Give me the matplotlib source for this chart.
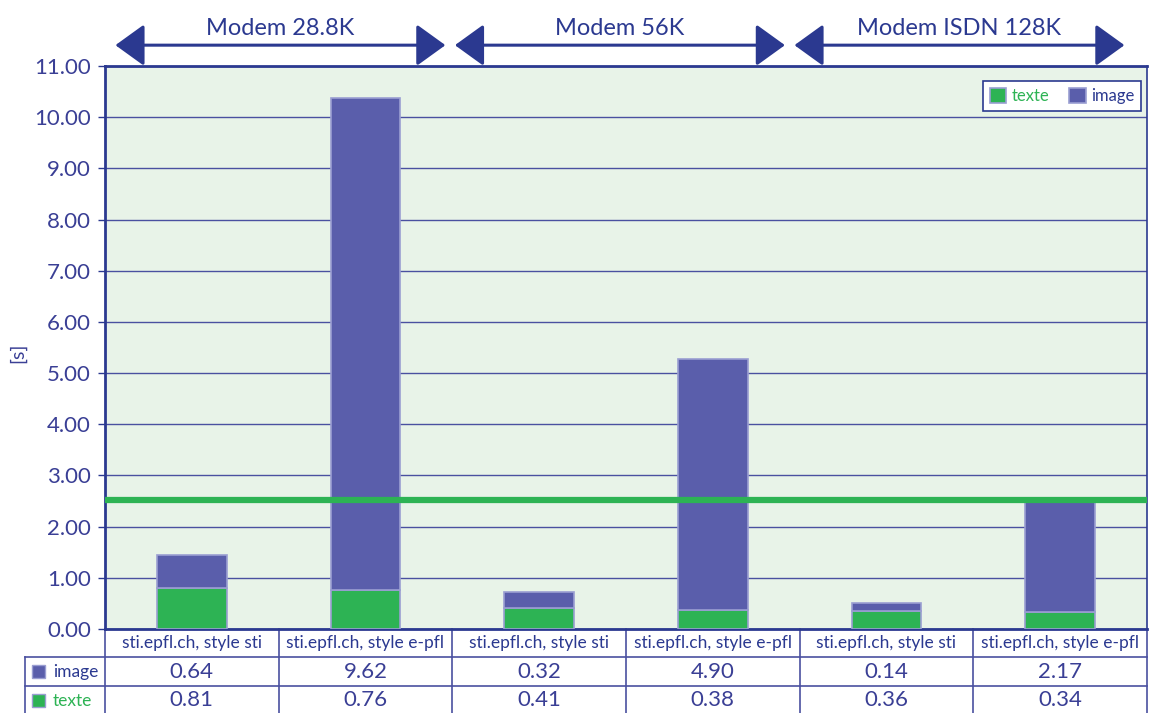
import matplotlib
matplotlib.use("Agg")
import matplotlib.pyplot as plt
import matplotlib.transforms as mtransforms
from matplotlib.patches import FancyArrowPatch, Rectangle
import numpy as np

plt.rcParams['font.family'] = ['Lato', 'DejaVu Sans']

categories = ["sti.epfl.ch, style sti", "sti.epfl.ch, style e-pfl",
              "sti.epfl.ch, style sti", "sti.epfl.ch, style e-pfl",
              "sti.epfl.ch, style sti", "sti.epfl.ch, style e-pfl"]
texte = [0.81, 0.76, 0.41, 0.38, 0.36, 0.34]
image = [0.64, 9.62, 0.32, 4.90, 0.14, 2.17]
groups = ["Modem 28.8K", "Modem 56K", "Modem ISDN 128K"]
threshold = 2.52
yticks = np.arange(0, 12, 1)

BLUE = '#2b3990'
TXT = '#3a3f95'
GREEN = '#2db354'
PURPLE = '#5a5eab'
EDGE = '#9a9ed2'
BG = '#e8f3e8'
GRID = '#4a50a0'
W = 'normal'

fig = plt.figure(figsize=(11.52, 7.13), dpi=100)
ax = fig.add_axes([105/1152, 1-629/713, (1147-105)/1152, (629-66)/713])
ax.set_facecolor(BG)

x = np.arange(len(categories))
ax.bar(x, texte, width=0.4, color=GREEN, edgecolor=EDGE, linewidth=1.2, zorder=3, label='texte')
ax.bar(x, image, width=0.4, bottom=texte, color=PURPLE, edgecolor=EDGE, linewidth=1.2, zorder=3, label='image')

ax.axhline(threshold, color=GREEN, lw=4.5, zorder=4)

ax.set_xlim(-0.5, len(categories) - 0.5)
ax.set_ylim(0, 11)
ax.set_yticks(yticks)
ax.set_yticklabels([f"{v:.2f}" for v in yticks], fontsize=16, color=TXT, fontweight=W)
ax.set_xticks([])
ax.yaxis.grid(True, color=GRID, lw=1, zorder=1)
ax.set_axisbelow(True)
ax.tick_params(axis='y', length=5, width=1, color=BLUE, pad=5)
for s in ['left', 'bottom', 'top']:
    ax.spines[s].set_color(BLUE)
    ax.spines[s].set_linewidth(2)
ax.spines['right'].set_color(BLUE)
ax.spines['right'].set_linewidth(1.2)

ax.set_ylabel("[s]", fontsize=14, color=TXT, fontweight=W)
ax.yaxis.set_label_coords(-0.076, 0.49)

leg = ax.legend(loc='upper right', ncol=2, frameon=True, fancybox=False,
                edgecolor=BLUE, facecolor='white', framealpha=1,
                fontsize=12, handlelength=1.0, handleheight=1.0,
                handletextpad=0.3, columnspacing=1.2, borderpad=0.4,
                bbox_to_anchor=(1.002, 0.988))
leg.get_frame().set_linewidth(1.2)
for t, c in zip(leg.get_texts(), [GREEN, BLUE]):
    t.set_color(c)

# group arrows
trans = mtransforms.blended_transform_factory(ax.transData, ax.transAxes)
spans = [(-0.44, 1.46), (1.515, 3.415), (3.47, 5.37)]
for (a, b), name in zip(spans, groups):
    arr = FancyArrowPatch((a, 1.037), (b, 1.037), transform=trans,
                          arrowstyle='<|-|>,head_length=0.9,head_width=0.65',
                          mutation_scale=20, color=BLUE, lw=2.2, clip_on=False,
                          shrinkA=0, shrinkB=0)
    ax.add_patch(arr)
    ax.text((a + b) / 2, 1.066, name, transform=trans, ha='center', va='center',
            fontsize=17, color=BLUE, fontweight=W, clip_on=False)

# data table below the axes
H = 563.0
y0 = 0.0
y1 = -28 / H
y2 = -57 / H
y3 = -86 / H
xl = -0.5
xr = len(categories) - 0.5
xh = (25 - 105) / 173.67 - 0.5
lk = dict(color=GRID, lw=1.2, transform=trans, clip_on=False)
ax.plot([xh, xr], [y1, y1], **lk)
ax.plot([xh, xr], [y2, y2], **lk)
ax.plot([xh, xh], [y1, y3], **lk)
for i in range(len(categories) + 1):
    ax.plot([xl + i, xl + i], [y0, y3], **lk)
for i, c in enumerate(categories):
    ax.text(i, (y0 + y1) / 2, c, transform=trans, ha='center', va='center',
            fontsize=12.5, color=BLUE, fontweight=W, clip_on=False)
    ax.text(i, (y1 + y2) / 2, f"{image[i]:.2f}", transform=trans, ha='center', va='center',
            fontsize=16, color=TXT, fontweight=W, clip_on=False)
    ax.text(i, (y2 + y3) / 2, f"{texte[i]:.2f}", transform=trans, ha='center', va='center',
            fontsize=16, color=TXT, fontweight=W, clip_on=False)

# row headers
sq = 0.075
for (ya, yb), lab, col, tcol in [((y1, y2), 'image', PURPLE, BLUE), ((y2, y3), 'texte', GREEN, GREEN)]:
    yc = (ya + yb) / 2
    ax.add_patch(Rectangle((xh + 0.04, yc - 0.012), sq, 0.024, transform=trans,
                           facecolor=col, edgecolor=EDGE, lw=1, clip_on=False))
    ax.text(xh + 0.16, yc, lab, transform=trans, ha='left', va='center',
            fontsize=12.5, color=tcol, fontweight=W, clip_on=False)

fig.savefig("out.png", dpi=100)
